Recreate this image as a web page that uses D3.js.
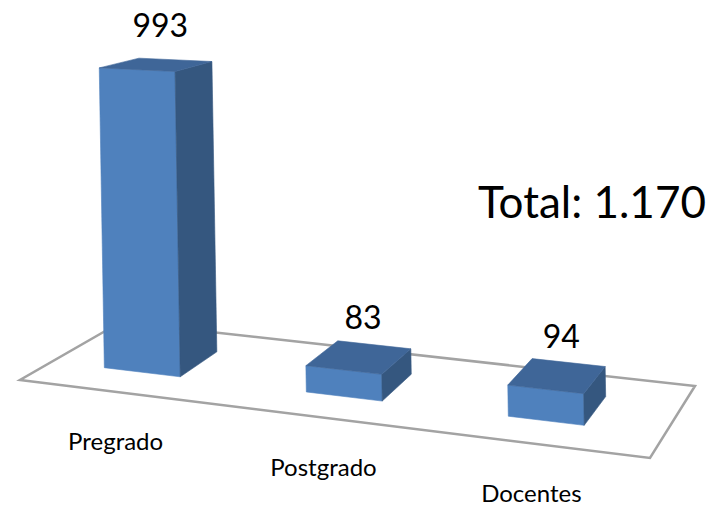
<!DOCTYPE html>
<html lang="es">
  <head>
    <meta charset="UTF-8" />
    <title>Total 1.170</title>
    <script src="https://cdn.jsdelivr.net/npm/d3@7"></script>
    <style>
      body { margin: 0; background: #fff; }
      text { font-family: Lato, "Open Sans", sans-serif; fill: #000; }
    </style>
  </head>
  <body>
    <div id='app'></div>
    <script>
  // data
  const categories = ['Pregrado', 'Postgrado', 'Docentes']
  const values = [993, 83, 94]

  const width = 722
  const height = 507

  // floor of the 3d plot, as seen in perspective (front-left, front-right, back-left, back-right)
  const fl = [20, 380], fr = [650, 458], bl = [121, 322], br = [695, 386]

  const es = d3.formatLocale({ decimal: ',', thousands: '.', grouping: [3], currency: ['$', ''] })

  const svg = d3.select('#app').append('svg')
    .attr('width', width)
    .attr('height', height)

  // u = along the categories (0..1), v = depth (0 front .. 1 back)
  const u = d3.scalePoint().domain(categories).range([0.147, 0.807])
  const barW = 0.124
  const v0 = 0.32, v1 = 0.73
  const h = d3.scaleLinear().domain([0, d3.max(values)]).range([0, 300])

  function proj(uu, vv, val) {
    const bx = (1 - vv) * ((1 - uu) * fl[0] + uu * fr[0]) + vv * ((1 - uu) * bl[0] + uu * br[0])
    const by = (1 - vv) * ((1 - uu) * fl[1] + uu * fr[1]) + vv * ((1 - uu) * bl[1] + uu * br[1])
    // nearer points look a little taller
    const hp = h(val) * (1 + (by - 368) * 0.002)
    return [bx - hp * 0.017, by - hp]
  }

  // floor
  svg.append('path')
    .attr('d', d3.line()([fl, fr, br, bl]) + 'Z')
    .attr('fill', 'none')
    .attr('stroke', '#a3a3a3')
    .attr('stroke-width', 2.5)
    .attr('stroke-linejoin', 'miter')

  const data = categories.map((c, i) => ({ cat: c, val: values[i] }))

  const bars = svg.selectAll('g.bar')
    .data(data)
    .join('g')
    .attr('class', 'bar')

  const faces = [
    { name: 'front', fill: '#4f81bd', pts: (a, b, d) => [proj(a, v0, 0), proj(b, v0, 0), proj(b, v0, d), proj(a, v0, d)] },
    { name: 'side', fill: '#35577f', pts: (a, b, d) => [proj(b, v0, 0), proj(b, v1, 0), proj(b, v1, d), proj(b, v0, d)] },
    { name: 'top', fill: '#3f6698', pts: (a, b, d) => [proj(a, v0, d), proj(b, v0, d), proj(b, v1, d), proj(a, v1, d)] }
  ]

  faces.forEach(f => {
    bars.append('path')
      .attr('d', d => d3.line()(f.pts(u(d.cat) - barW / 2, u(d.cat) + barW / 2, d.val)) + 'Z')
      .attr('fill', f.fill)
      .attr('stroke', f.fill)
      .attr('stroke-width', 0.6)
  })

  // value labels above the top face
  bars.append('text')
    .attr('x', d => proj(u(d.cat), (v0 + v1) / 2, d.val)[0] + 4)
    .attr('y', d => proj(u(d.cat), (v0 + v1) / 2, d.val)[1] - 28)
    .attr('text-anchor', 'middle')
    .attr('font-size', 32)
    .text(d => d.val)

  // category labels, below the front edge of the floor
  svg.selectAll('text.cat')
    .data(categories)
    .join('text')
    .attr('class', 'cat')
    .attr('x', d => proj(u(d), 0, 0)[0] + 3)
    .attr('y', d => proj(u(d), 0, 0)[1] + 59)
    .attr('text-anchor', 'middle')
    .attr('font-size', 24)
    .text(d => d)

  svg.append('text')
    .attr('x', 478)
    .attr('y', 218)
    .attr('font-size', 44)
    .text('Total: ' + es.format(',')(d3.sum(values)))
    </script>
  </body>
</html>
